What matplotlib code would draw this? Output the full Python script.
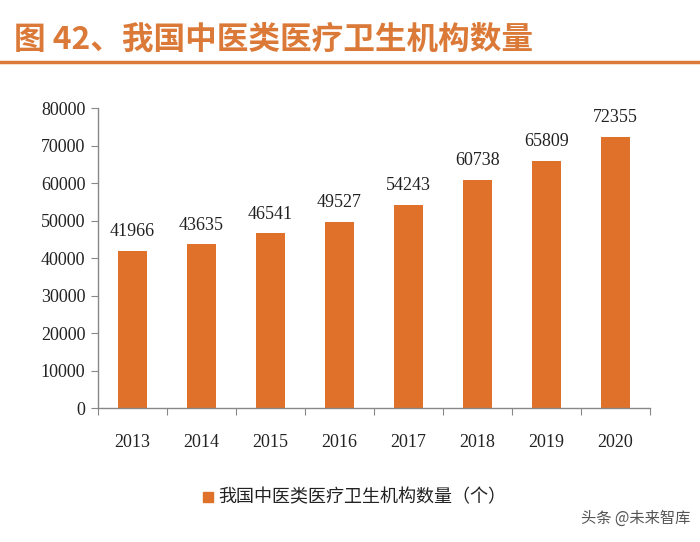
import matplotlib
matplotlib.use('Agg')
import matplotlib.pyplot as plt
from matplotlib.patches import Rectangle
from matplotlib.lines import Line2D

years = ['2013', '2014', '2015', '2016', '2017', '2018', '2019', '2020']
counts = [41966, 43635, 46541, 49527, 54243, 60738, 65809, 72355]
yticks = [0, 10000, 20000, 30000, 40000, 50000, 60000, 70000, 80000]

title = '图 42、我国中医类医疗卫生机构数量'
legendLabel = '我国中医类医疗卫生机构数量（个）'
watermark = '头条 @未来智库'

barColor = '#E0712A'
titleColor = '#DB7A38'
cjk = ['Noto Sans CJK SC', 'DejaVu Sans']
serif = 'Liberation Serif'

fig = plt.figure(figsize=(7, 5.42), dpi=100)
ax = fig.add_axes([0.14, 0.2472, 0.7886, 0.5535])

x = list(range(len(years)))
ax.bar(x, counts, width=0.42, color=barColor, zorder=2)
for xi, v in zip(x, counts):
    ax.text(xi, v + 2900, str(v), ha='center', va='bottom', fontsize=13,
            family=serif, color='#222222')

ax.set_xlim(-0.5, len(years) - 0.5)
ax.set_ylim(0, 80000)
ax.set_yticks(yticks)
ax.set_yticklabels([str(t) for t in yticks])

# tick marks between categories, labels at centers
ax.set_xticks([i - 0.5 for i in range(len(years) + 1)])
ax.set_xticklabels([])
ax.set_xticks(x, minor=True)
ax.set_xticklabels(years, minor=True)
ax.tick_params(axis='x', which='minor', length=0, pad=19)
ax.tick_params(axis='x', which='major', length=5, color='#888888', direction='out')
ax.tick_params(axis='y', length=5, color='#888888', direction='out', pad=4)
ax.tick_params(axis='both', which='both', labelfontfamily=serif, labelsize=13,
               labelcolor='#222222')

for s in ['top', 'right']:
    ax.spines[s].set_visible(False)
for s in ['left', 'bottom']:
    ax.spines[s].set_color('#888888')
    ax.spines[s].set_linewidth(1.0)

# title and rule
fig.text(14 / 700, 1 - 40 / 542, title, fontsize=22.8, color=titleColor,
         family=cjk, weight='bold', va='center', ha='left')
fig.add_artist(Line2D([0, 1], [1 - 62 / 542, 1 - 62 / 542], color=titleColor,
                      linewidth=2.5, transform=fig.transFigure))

# legend
fig.add_artist(Rectangle((203 / 700, 1 - 502 / 542), 10 / 700, 10 / 542,
                         color=barColor, transform=fig.transFigure))
fig.text(218 / 700, 1 - 497 / 542, legendLabel, fontsize=13, color='#222222',
         family=cjk, va='center', ha='left')

fig.text(690 / 700, 1 - 518 / 542, watermark, fontsize=11, color='#555555',
         family=cjk, va='center', ha='right')

fig.savefig('out.png', dpi=100)
